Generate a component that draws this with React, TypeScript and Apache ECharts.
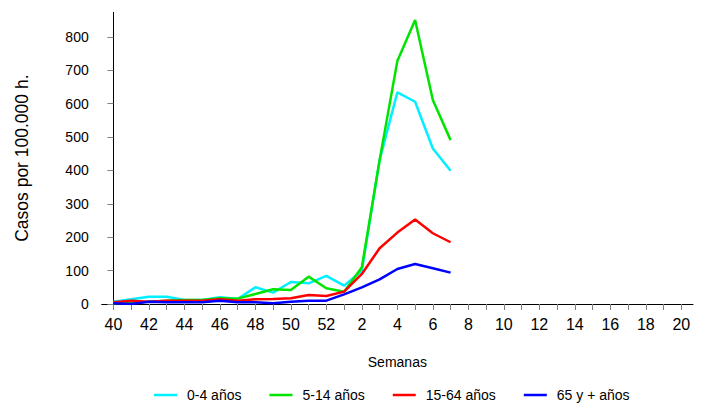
import React, { useEffect, useRef } from "react";
import * as echarts from "echarts";

// Weeks: 40..52 of one year, then 1..20 of the next
const weekLabels: string[] = [
  "40","41","42","43","44","45","46","47","48","49","50","51","52",
  "1","2","3","4","5","6","7","8","9","10","11","12","13","14","15","16","17","18","19","20",
];
const seriesNames = ["0-4 años", "5-14 años", "15-64 años", "65 y + años"];
const age0_4 = [7, 14, 22, 22, 12, 12, 20, 15, 50, 34, 66, 62, 84, 55, 100, 431, 634, 606, 466, 399];
const age5_14 = [2, 4, 7, 10, 12, 12, 17, 16, 30, 44, 42, 82, 47, 37, 110, 431, 728, 851, 611, 491];
const age15_64 = [5, 10, 7, 10, 10, 10, 14, 10, 14, 15, 17, 27, 24, 37, 90, 167, 214, 253, 212, 185];
const age65 = [2, 0, 7, 5, 5, 5, 10, 5, 5, 2, 7, 10, 10, 29, 50, 74, 105, 120, 107, 94];
const yTicks = [0, 100, 200, 300, 400, 500, 600, 700, 800];
const colors = ["#00F0FF", "#00E400", "#FF0000", "#0000FF"];

const FONT = "'Liberation Sans', Arial, sans-serif";

export default function App() {
  const ref = useRef<HTMLDivElement>(null);
  useEffect(() => {
    if (!ref.current) return;
    const chart = echarts.init(ref.current, undefined, { renderer: "svg" });
    const all = [age0_4, age5_14, age15_64, age65];
    const tickIdx = weekLabels.map((_, i) => i);
    const labelIdx = tickIdx.filter((i) => i % 2 === 0);
    chart.setOption({
      animation: false,
      backgroundColor: "#ffffff",
      textStyle: { fontFamily: FONT },
      grid: { left: 101.7, right: 11, top: 12.3, bottom: 99, containLabel: false },
      legend: {
        data: seriesNames,
        left: 154,
        top: 388,
        padding: 0,
        icon: "path://M0,0 L23,0 L23,2.5 L0,2.5 Z",
        itemWidth: 23,
        itemHeight: 3,
        itemGap: 28,
        textStyle: { fontSize: 14, color: "#000", fontFamily: FONT, padding: [0, 0, 0, 5] },
      },
      xAxis: {
        type: "value",
        min: -0.66,
        max: weekLabels.length - 1 + 0.66,
        name: "Semanas",
        nameLocation: "middle",
        nameGap: 51,
        nameTextStyle: { fontSize: 14, color: "#000", fontFamily: FONT },
        axisLine: { show: true, lineStyle: { color: "#000", width: 1 } },
        axisTick: { show: true, length: 6, lineStyle: { color: "#808080" }, customValues: tickIdx },
        axisLabel: {
          customValues: labelIdx,
          formatter: (v: number) => weekLabels[Math.round(v)] ?? "",
          fontSize: 16,
          color: "#000",
          margin: 12,
          fontFamily: FONT,
        },
        splitLine: { show: false },
      },
      yAxis: {
        type: "value",
        min: 0,
        max: 874,
        name: "Casos por 100.000 h.",
        nameLocation: "middle",
        nameRotate: 90,
        nameGap: 71,
        nameTextStyle: { fontSize: 17.5, color: "#000", fontFamily: FONT },
        axisLine: { show: true, lineStyle: { color: "#000", width: 1 } },
        axisTick: { show: true, length: 6, lineStyle: { color: "#808080" }, customValues: yTicks },
        axisLabel: { customValues: yTicks, fontSize: 14, color: "#000", margin: 13, fontFamily: FONT },
        splitLine: { show: false },
      },
      series: seriesNames.map((name, k) => ({
        name,
        type: "line",
        symbol: "none",
        data: all[k].map((v, i) => [i, v]),
        lineStyle: { color: colors[k], width: 2.5 },
        itemStyle: { color: colors[k] },
      })),
    });
    return () => chart.dispose();
  }, []);
  return <div ref={ref} style={{ width: 704, height: 403, position: "absolute", left: 0, top: 0 }} />;
}
